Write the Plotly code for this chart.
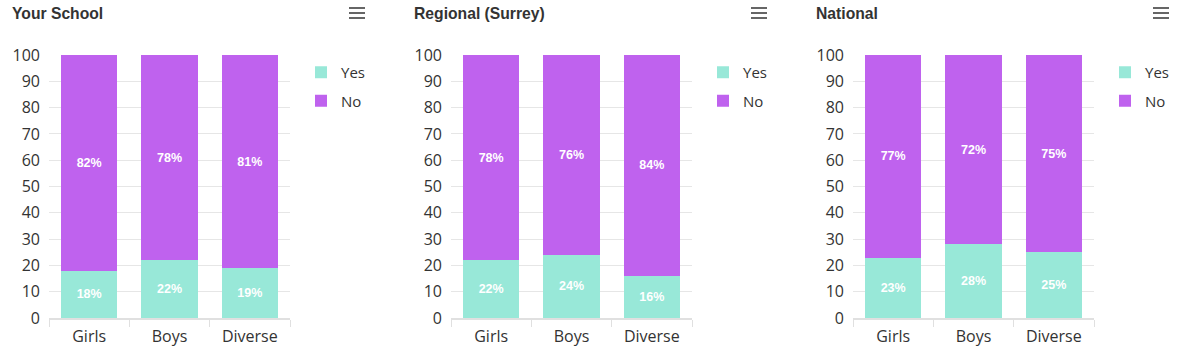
import plotly.graph_objects as go

categories = ["Girls", "Boys", "Diverse"]
panel_titles = ["Your School", "Regional (Surrey)", "National"]
yes_values = [[18, 22, 19], [22, 24, 16], [23, 28, 25]]
no_values = [[82, 78, 81], [78, 76, 84], [77, 72, 75]]
y_ticks = list(range(0, 101, 10))

W, H = 1179, 363
YES_COLOR = "#98E8D8"
NO_COLOR = "#BF62EE"
TEXT_COLOR = "#333333"
GRID = "#E6E6E6"
AX_FONT = "Open Sans"

plot_left = [49, 451, 853]
plot_w = 241
plot_top, plot_bottom = 55, 318
panel_off = [0, 402, 804]

def px(x):
    return x / W

def py(y):
    return 1 - y / H

fig = go.Figure()
legend_names = ["legend", "legend2", "legend3"]
for i in range(3):
    xa = "x" if i == 0 else f"x{i+1}"
    ya = "y" if i == 0 else f"y{i+1}"
    fig.add_trace(go.Bar(
        x=categories, y=yes_values[i], name="Yes", xaxis=xa, yaxis=ya,
        marker=dict(color=YES_COLOR, line=dict(width=0)),
        text=[f"{v}%" for v in yes_values[i]], textposition="inside",
        insidetextanchor="middle", textangle=0,
        textfont=dict(color="white", size=12.5, family="Liberation Sans", weight="bold"),
        legend=legend_names[i], legendgroup=f"yes{i}", hoverinfo="skip",
    ))
    fig.add_trace(go.Bar(
        x=categories, y=no_values[i], name="No", xaxis=xa, yaxis=ya,
        marker=dict(color=NO_COLOR, line=dict(width=0)),
        text=[f"{v}%" for v in no_values[i]], textposition="inside",
        insidetextanchor="middle", textangle=0,
        textfont=dict(color="white", size=12.5, family="Liberation Sans", weight="bold"),
        legend=legend_names[i], legendgroup=f"no{i}", hoverinfo="skip",
    ))

layout = dict(
    width=W, height=H, margin=dict(l=0, r=0, t=0, b=0),
    template="none", paper_bgcolor="white", plot_bgcolor="white",
    barmode="stack", bargap=0.3, showlegend=True,
    uniformtext=dict(minsize=8, mode="show"),
    font=dict(family=AX_FONT, color=TEXT_COLOR),
)
annotations = []
shapes = []
for i in range(3):
    xk = "xaxis" if i == 0 else f"xaxis{i+1}"
    yk = "yaxis" if i == 0 else f"yaxis{i+1}"
    ya = "y" if i == 0 else f"y{i+1}"
    xa = "x" if i == 0 else f"x{i+1}"
    layout[xk] = dict(
        domain=[px(plot_left[i]), px(plot_left[i] + plot_w)], anchor=ya,
        showline=True, linecolor="#E0E0E0", linewidth=2,
        ticks="outside", tickson="boundaries", ticklen=7, tickcolor="#E0E0E0", tickwidth=1,
        showgrid=False, zeroline=False, automargin=False,
        tickfont=dict(size=16, color=TEXT_COLOR, family=AX_FONT),
        ticklabelstandoff=3, fixedrange=True,
    )
    layout[yk] = dict(
        domain=[py(plot_bottom), py(plot_top)], anchor=xa,
        range=[0, 100], tickvals=y_ticks, showgrid=True, gridcolor=GRID, gridwidth=1,
        zeroline=False, showline=False, ticks="", automargin=False,
        tickfont=dict(size=16, color=TEXT_COLOR, family=AX_FONT),
        ticklabelstandoff=8, fixedrange=True,
    )
    ln = legend_names[i]
    layout[ln] = dict(
        x=px(plot_left[i] + 252), y=py(56), xanchor="left", yanchor="top",
        bgcolor="rgba(0,0,0,0)", font=dict(size=15, color=TEXT_COLOR, family=AX_FONT),
        traceorder="grouped", tracegroupgap=6, itemwidth=30, itemclick=False, itemdoubleclick=False,
    )
    annotations.append(dict(
        text=f"<b>{panel_titles[i]}</b>", xref="paper", yref="paper",
        x=px(10 + panel_off[i]), y=py(13), xanchor="left", yanchor="middle",
        showarrow=False, font=dict(size=15.7, color="#333333", family="Liberation Sans"),
    ))
    for yy in (8, 13, 18):
        shapes.append(dict(
            type="line", xref="paper", yref="paper",
            x0=px(349 + panel_off[i]), x1=px(365 + panel_off[i]), y0=py(yy), y1=py(yy),
            line=dict(color="#666666", width=2),
        ))
layout["annotations"] = annotations
layout["shapes"] = shapes
fig.update_layout(**layout)

fig.write_html(
    "out.html",
    config={"displayModeBar": False},
    post_script="document.body.style.margin='0';document.body.style.overflow='hidden';",
)
